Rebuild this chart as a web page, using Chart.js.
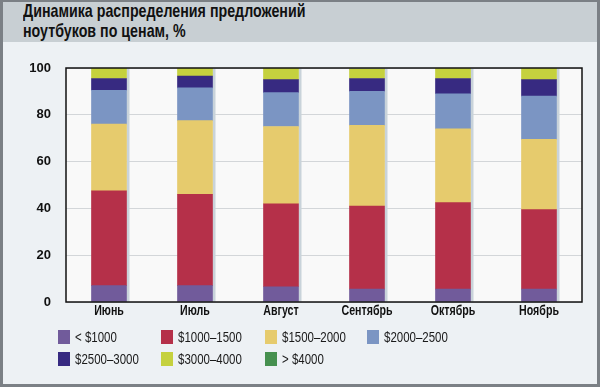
<!DOCTYPE html>
<html>
<head>
<meta charset="utf-8">
<script src="https://cdn.jsdelivr.net/npm/chart.js@4"></script>
<style>
    html, body { margin: 0; padding: 0; }
    body { width: 600px; height: 387px; overflow: hidden; }
    #frame {
        position: relative;
        width: 600px; height: 387px;
        box-sizing: border-box;
        background: #edf1f4;
        border: 3px solid #7b8085;
        border-top-width: 2px;
    }
    #title {
        position: absolute; left: 0; top: 0; right: 0; height: 40px;
        background: #c8cfd3;
    }
    #title div {
        position: absolute; left: 20px; top: -1px;
        transform: scaleX(0.77); transform-origin: left top;
        white-space: nowrap;
        font-family: "Liberation Sans", Arial, sans-serif;
        font-weight: bold;
        font-size: 18.5px;
        line-height: 20px;
        color: #111;
    }
    #chartBox { position: absolute; left: -3px; top: -2px; width: 600px; height: 387px; }
    #legend {
        position: absolute; left: 55px; top: 328px;
        width: 420px;
        font-family: "Liberation Sans", Arial, sans-serif;
        font-size: 14px;
        color: #1a1a1a;
    }
    .item { position: absolute; height: 16px; line-height: 16px; white-space: nowrap; }
    .box { position: absolute; left: 0; top: 0; width: 12px; height: 14px; }
    .txt { position: absolute; left: 17px; top: -1px; transform: scaleX(0.82); transform-origin: left center; }
</style>
</head>
<body>
<div id="frame">
    <div id="title"><div>Динамика распределения предложений<br>ноутбуков по ценам, %</div></div>
    <div id="chartBox"><canvas id="priceChart" width="600" height="387"></canvas></div>
    <div id="legend"></div>
</div>

<script>
// -----------------------------------------
// Daten
// -----------------------------------------
const months = ["Июнь", "Июль", "Август", "Сентябрь", "Октябрь", "Ноябрь"];

const under1000  = [7,    7,    6.5,  5.5,  5.5,  5.5];
const r1000_1500 = [40.5, 39,   35.5, 35.5, 37,   34];
const r1500_2000 = [28.5, 31.5, 33,   34.5, 31.5, 30];
const r2000_2500 = [14.5, 14,   14.5, 14.5, 15,   18.5];
const r2500_3000 = [5,    5,    5.5,  5.5,  6.5,  7];
const r3000_4000 = [4.5,  3.5,  5,    4,    4.5,  5];
const over4000   = [0,    0,    0,    0,    0,    0];

const yTicks = [0, 20, 40, 60, 80, 100];

const series = [
    { label: "< $1000",     data: under1000,  color: "#715b9b" },
    { label: "$1000–1500",  data: r1000_1500, color: "#b53049" },
    { label: "$1500–2000",  data: r1500_2000, color: "#e6cb6d" },
    { label: "$2000–2500",  data: r2000_2500, color: "#7b95c3" },
    { label: "$2500–3000",  data: r2500_3000, color: "#372a81" },
    { label: "$3000–4000",  data: r3000_4000, color: "#c5d13e" },
    { label: "> $4000",     data: over4000,   color: "#46904f" }
];

const FONT = '"Liberation Sans", Arial, sans-serif';


// -----------------------------------------
// Plugins: Hintergrund, Schatten, Rahmen, Monatsnamen
// -----------------------------------------
const plotBackground = {
    id: "plotBackground",
    beforeDraw(chart) {
        const { ctx, chartArea: a } = chart;
        ctx.save();
        ctx.fillStyle = "#f9f9f9";
        ctx.fillRect(a.left, a.top, a.right - a.left, a.bottom - a.top);
        ctx.restore();
    }
};

const barShadow = {
    id: "barShadow",
    beforeDatasetsDraw(chart) {
        const ctx = chart.ctx;
        const first = chart.getDatasetMeta(0);
        const yScale = chart.scales.y;
        ctx.save();
        ctx.fillStyle = "#c9d3da";
        first.data.forEach((bar) => {
            const right = bar.x + bar.width / 2;
            const top = yScale.getPixelForValue(100);
            ctx.fillRect(right, top, 3, bar.base - top);
        });
        ctx.restore();
    }
};

const plotBorder = {
    id: "plotBorder",
    afterDraw(chart) {
        const { ctx, chartArea: a } = chart;
        ctx.save();
        ctx.strokeStyle = "#111";
        ctx.lineWidth = 1.5;
        ctx.strokeRect(a.left, a.top, a.right - a.left, a.bottom - a.top);
        ctx.restore();
    }
};

// schmale (gestauchte) Monatsnamen unter den Balken
const narrowLabels = {
    id: "narrowLabels",
    afterDraw(chart) {
        const { ctx, chartArea: a } = chart;
        const xScale = chart.scales.x;
        ctx.save();
        ctx.fillStyle = "#111";
        ctx.font = "bold 14px " + FONT;
        ctx.textAlign = "center";
        ctx.textBaseline = "top";
        months.forEach((m, i) => {
            ctx.save();
            ctx.translate(xScale.getPixelForTick(i), a.bottom + 2);
            ctx.scale(0.76, 1);
            ctx.fillText(m, 0, 0);
            ctx.restore();
        });
        ctx.restore();
    }
};


// -----------------------------------------
// Diagramm
// -----------------------------------------
function initChart() {
    const ctx = document.getElementById("priceChart").getContext("2d");

    new Chart(ctx, {
        type: "bar",
        data: {
            labels: months,
            datasets: series.map(s => ({
                label: s.label,
                data: s.data,
                backgroundColor: s.color,
                borderWidth: 0,
                barThickness: 35
            }))
        },
        options: {
            responsive: false,
            animation: false,
            layout: { padding: { left: 0, right: 18, top: 68, bottom: 65 } },
            plugins: {
                legend: { display: false },
                tooltip: { enabled: false }
            },
            scales: {
                x: {
                    stacked: true,
                    grid: { display: false },
                    border: { display: false },
                    ticks: { display: false },
                    afterFit(scale) { scale.height = 20; }
                },
                y: {
                    stacked: true,
                    min: 0,
                    max: 100,
                    afterBuildTicks(scale) {
                        scale.ticks = yTicks.map(v => ({ value: v }));
                    },
                    grid: { color: "#d3d6d9", lineWidth: 1, drawTicks: false },
                    border: { display: false },
                    ticks: {
                        color: "#111",
                        padding: 15,
                        font: { family: FONT, size: 13, weight: "bold" }
                    },
                    afterFit(scale) { scale.width = 66; }
                }
            }
        },
        plugins: [plotBackground, barShadow, plotBorder, narrowLabels]
    });
}


// -----------------------------------------
// Legende
// -----------------------------------------
function buildLegend() {
    const legend = document.getElementById("legend");
    const colX = [0, 103, 207, 309];
    series.forEach((s, i) => {
        const item = document.createElement("div");
        item.className = "item";
        item.style.left = colX[i % 4] + "px";
        item.style.top = (Math.floor(i / 4) * 21.5) + "px";
        item.innerHTML = '<span class="box" style="background:' + s.color + '"></span>' +
                         '<span class="txt">' + s.label + '</span>';
        legend.appendChild(item);
    });
}

window.addEventListener("DOMContentLoaded", () => {
    initChart();
    buildLegend();
});
</script>
</body>
</html>
